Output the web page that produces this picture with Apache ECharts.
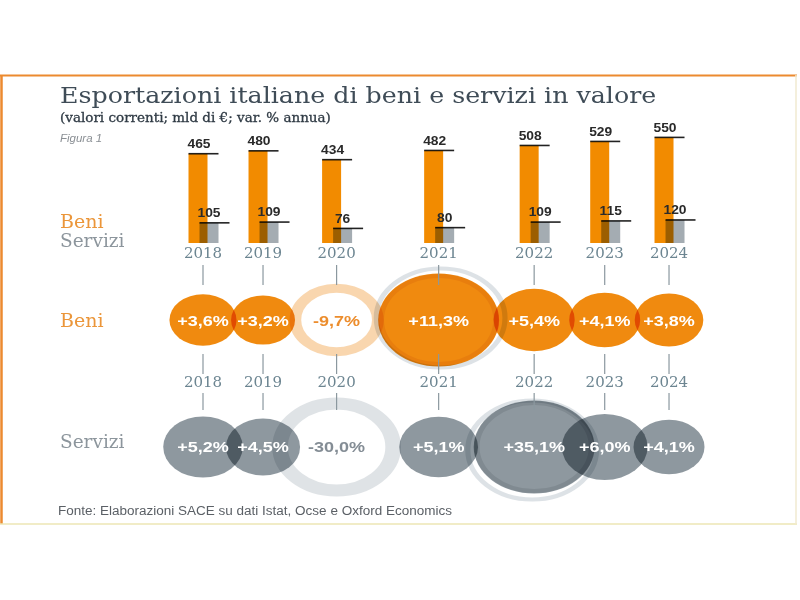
<!DOCTYPE html>
<html><head><meta charset="utf-8">
<script src="https://cdn.jsdelivr.net/npm/echarts@6/dist/echarts.min.js"></script>
<style>html,body{margin:0;padding:0;background:#fff}#c{width:800px;height:600px}</style>
</head><body><div id="c"></div>
<script>
// ---- data ----
const years = ['2018','2019','2020','2021','2022','2023','2024'];
const beniValues = [465,480,434,482,508,529,550];
const serviziValues = [105,109,76,80,109,115,120];
const beniGrowth = [3.6,3.2,-9.7,11.3,5.4,4.1,3.8];
const serviziGrowth = [5.2,4.5,-30.0,5.1,35.1,6.0,4.1];
const rowLabels = ['Beni','Servizi'];
const titleText = 'Esportazioni italiane di beni e servizi in valore';
const subtitleText = '(valori correnti; mld di €; var. % annua)';
const figureText = 'Figura 1';
const sourceText = 'Fonte: Elaborazioni SACE su dati Istat, Ocse e Oxford Economics';

// ---- styling / layout rules ----
const ORANGE = '#f08a0f', GRAY = '#8e989f';
const RATIO = 1.3;
const SERIF = '"DejaVu Serif", serif';
const SANS = '"Liberation Sans", Arial, sans-serif';
function ellH(v){ return v < 0 ? Math.min(99, 55 + 1.8*Math.abs(v)) : Math.min(93, 30 + 6*v); }
// packed layout of the growth bubbles (Beni row drives spacing)
const xs = [203];
for (let i = 1; i < years.length; i++) {
  const w0 = ellH(beniGrowth[i-1])*RATIO, w1 = ellH(beniGrowth[i])*RATIO;
  xs.push(xs[i-1] + (w0 + w1)/2 - 5.5);
}
function fmt(v){ return (v > 0 ? '+' : '') + v.toFixed(1).replace('.', ',') + '%'; }

function barItem(kind){
  return function(params, api){
    const x = api.value(0), v = api.value(1);
    const top = api.coord([x, v]), base = api.coord([x, 0]);
    const cx = top[0];
    const left = kind === 'beni' ? cx - 14.5 : cx - 3.5;
    const bw = 19;
    return {type:'group', children:[
      {type:'rect', shape:{x:left, y:top[1], width:bw, height:base[1]-top[1]},
        style:{fill: kind === 'beni' ? '#f28b00' : '#a4acb2'}},
      {type:'line', shape:{x1:left, y1:top[1], x2:left+30, y2:top[1]}, style:{stroke:'#222', lineWidth:1.6}},
      {type:'text', x:left + bw/2 + (kind === 'beni' ? 1 : 0), y:top[1]-9, scaleX:1.15,
        style:{text:String(v), font:'bold 12px ' + SANS, fill:'#2a2a2a', align:'center', verticalAlign:'middle'}}
    ]};
  };
}

function circleItem(params, api){
  const x = api.value(0), r = api.value(1), v = api.value(2);
  const p = api.coord([x, r]);
  const h = ellH(v);
  const row = r === 0 ? beniGrowth : serviziGrowth;
  const isMax = v === Math.max.apply(null, row);
  const base = r === 0 ? ORANGE : GRAY;
  const children = [];
  if (v < 0) {
    const sw = r === 0 ? 9 : 12;
    children.push({type:'circle', x:p[0], y:p[1], scaleX:RATIO, shape:{cx:0, cy:0, r:(h - sw)/2},
      style:{fill:'none', stroke: r === 0 ? '#f9d6ae' : '#dfe3e6', lineWidth:sw}});
  } else {
    if (isMax) children.push({type:'circle', x:p[0] + (r === 0 ? 2 : -2), y:p[1] + (r === 0 ? -2 : 3), scaleX:RATIO,
      shape:{cx:0, cy:0, r:h/2 + 3}, style:{fill:'none', stroke:'#dde2e6', lineWidth:4}});
    children.push({type:'circle', x:p[0], y:p[1], scaleX:RATIO, shape:{cx:0, cy:0, r:h/2},
      style:{fill:base}});
    if (isMax) children.push({type:'circle', x:p[0], y:p[1], scaleX:RATIO, shape:{cx:0, cy:0, r:h/2 - 2.5},
      style:{fill:'none', stroke: r === 0 ? 'rgba(200,100,0,0.15)' : 'rgba(80,92,102,0.15)', lineWidth:4}});
  }
  return {type:'group', children};
}

function labelItem(params, api){
  const i = api.value(2);
  const x = api.value(0);
  const pb = api.coord([x, 0]), ps = api.coord([x, 1]);
  const lc = '#8b989f';
  const yearStyle = {text: years[i], font:'15px ' + SERIF, fill:'#6c8591', align:'center', verticalAlign:'middle'};
  const bv = beniGrowth[i], sv = serviziGrowth[i];
  return {type:'group', children:[
    {type:'text', x:pb[0], y:pb[1] - 66, style:yearStyle},
    {type:'line', shape:{x1:pb[0], y1:pb[1]-55, x2:pb[0], y2:pb[1]-35}, style:{stroke:lc, lineWidth:1.2}},
    {type:'line', shape:{x1:pb[0], y1:pb[1]+34, x2:pb[0], y2:pb[1]+54}, style:{stroke:lc, lineWidth:1.2}},
    {type:'text', x:pb[0], y:pb[1] + 63, style:yearStyle},
    {type:'line', shape:{x1:ps[0], y1:ps[1]-54, x2:ps[0], y2:ps[1]-37}, style:{stroke:lc, lineWidth:1.2}},
    {type:'text', x:pb[0], y:pb[1] + 1.5, scaleX:1.2,
      style:{text:fmt(bv), font:'bold 15px ' + SANS, fill: bv < 0 ? '#ec8d2d' : '#ffffff', align:'center', verticalAlign:'middle'}},
    {type:'text', x:ps[0], y:ps[1] + 0.5, scaleX:1.2,
      style:{text:fmt(sv), font:'bold 15px ' + SANS, fill: sv < 0 ? '#848d95' : '#ffffff', align:'center', verticalAlign:'middle'}}
  ]};
}

const circleData = [];
beniGrowth.forEach((v, i) => circleData.push([xs[i], 0, v, i]));
serviziGrowth.forEach((v, i) => circleData.push([xs[i], 1, v, i]));

const chart = echarts.init(document.getElementById('c'), null, {renderer:'canvas'});
chart.setOption({
  animation:false,
  backgroundColor:'#ffffff',
  legend:{
    data:[{name:'Beni', icon:'none', textStyle:{color:'#eb963a', fontSize:19, lineHeight:17}},
          {name:'Servizi', icon:'none', textStyle:{color:'#8c959c', fontSize:18.5, lineHeight:17}}],
    orient:'vertical', left:50, top:209, itemWidth:0, itemHeight:12, itemGap:0,
    selectedMode:false,
    textStyle:{fontFamily:SERIF, lineHeight:17}
  },
  graphic:[
    {type:'line', shape:{x1:0, y1:75.5, x2:797, y2:75.5}, style:{stroke:'#ec8a2f', lineWidth:2}, z:100},
    {type:'line', shape:{x1:1.5, y1:75, x2:1.5, y2:524}, style:{stroke:'#ec8a2f', lineWidth:2.5}, z:100},
    {type:'line', shape:{x1:0, y1:524, x2:797, y2:524}, style:{stroke:'#ede6b5', lineWidth:1.5}, z:100},
    {type:'line', shape:{x1:796, y1:75, x2:796, y2:524}, style:{stroke:'#f1ead0', lineWidth:1.5}, z:100},
    {type:'text', x:60, y:97, scaleX:1.15, style:{text:titleText, font:'22px ' + SERIF, fill:'#3f4c57', verticalAlign:'middle'}},
    {type:'text', x:60, y:119, scaleX:1.125, style:{text:subtitleText, font:'12px ' + SERIF, fill:'#2f3a44', verticalAlign:'middle', stroke:'#2f3a44', lineWidth:0.3}},
    {type:'text', x:60, y:139, style:{text:figureText, font:'italic 11.5px ' + SANS, fill:'#8a8f94', verticalAlign:'middle'}},
    {type:'text', x:58, y:512, scaleX:1.125, style:{text:sourceText, font:'12px ' + SANS, fill:'#5b6066', verticalAlign:'middle'}}
  ],
  grid:[
    {left:0, right:0, top:243 - 600*0.192, height:600*0.192},
    {left:0, right:0, top:256.5, height:254}
  ],
  xAxis:[
    {type:'value', gridIndex:0, min:0, max:800, show:false},
    {type:'value', gridIndex:1, min:0, max:800, show:false}
  ],
  yAxis:[
    {type:'value', gridIndex:0, min:0, max:600, show:false},
    {type:'category', gridIndex:1, data:rowLabels, inverse:true,
      axisLine:{show:false}, axisTick:{show:false}, splitLine:{show:false},
      axisLabel:{inside:true, margin:60,
        formatter:function(v){ return v === 'Beni' ? '{b|' + v + '}' : '{s|' + v + '}'; },
        rich:{b:{color:'#eb963a', fontFamily:SERIF, fontSize:19, padding:[4,0,0,0]},
              s:{color:'#8c959c', fontFamily:SERIF, fontSize:18.5, padding:[0,0,8,0]}}}}
  ],
  series:[
    {type:'custom', name:'Beni', xAxisIndex:0, yAxisIndex:0, renderItem:barItem('beni'),
      data:xs.map((x, i) => [x, beniValues[i]]), z:2, blendMode:'multiply'},
    {type:'custom', name:'Servizi', xAxisIndex:0, yAxisIndex:0, renderItem:barItem('servizi'),
      data:xs.map((x, i) => [x, serviziValues[i]]), z:3, blendMode:'multiply'},
    {type:'custom', name:'Variazione', xAxisIndex:1, yAxisIndex:1, renderItem:circleItem,
      data:circleData, z:4, blendMode:'multiply'},
    {type:'custom', name:'Etichette', xAxisIndex:1, yAxisIndex:1, renderItem:labelItem,
      data:xs.map((x, i) => [x, 0, i]), z:5}
  ]
});
</script></body></html>
